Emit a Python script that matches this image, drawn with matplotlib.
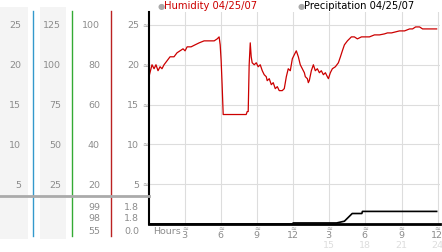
import numpy as np
import matplotlib.pyplot as plt
import matplotlib.transforms as mtransforms

# humidity (%) over the day
hum_hours = [0, 0.08, 0.25, 0.42, 0.58, 0.75, 0.92, 1.08, 1.25, 1.5, 1.75, 2.08, 2.33,
             2.58, 2.83, 3.0, 3.17, 3.5, 3.83, 4.17, 4.58, 5.0, 5.42, 5.67, 5.83, 5.92,
             6.0, 6.08, 6.17, 6.67, 7.5, 8.08, 8.17, 8.25, 8.33, 8.42, 8.5, 8.58, 8.75,
             8.92, 9.08, 9.25, 9.42, 9.58, 9.75, 9.83, 10.0, 10.17, 10.33, 10.5, 10.67,
             10.83, 11.08, 11.25, 11.42, 11.58, 11.75, 11.92, 12.08, 12.25, 12.42, 12.58,
             12.75, 12.92, 13.0, 13.17, 13.25, 13.33, 13.5, 13.67, 13.83, 14.0, 14.17,
             14.33, 14.5, 14.67, 14.83, 14.92, 15.08, 15.25, 15.5, 15.75, 15.92, 16.08,
             16.25, 16.5, 16.83, 17.08, 17.33, 17.67, 18.0, 18.33, 18.75, 19.17, 19.58,
             19.83, 20.17, 20.5, 20.83, 21.25, 21.67, 21.92, 22.17, 22.5, 22.75, 23.33, 23.92]
humidity = [74, 76, 80, 78, 80, 77, 79, 78, 80, 82, 84, 84, 86,
            87, 88, 87, 89, 89, 90, 91, 92, 92, 92, 93, 94, 90,
            82, 70, 55, 55, 55, 55, 56.5, 56.5, 80, 91, 84, 81, 80,
            81, 79, 80, 77, 75, 74, 72, 73, 70, 71, 68, 69,
            67, 67, 68, 74, 78, 77, 83, 85, 87, 84, 80,
            78, 76, 74, 73, 71, 72, 77, 80, 77, 78, 76,
            77, 75, 76, 74, 73, 76, 78, 79, 81, 84, 87,
            90, 92, 94, 94, 93, 94, 94, 94, 95, 95, 95.5,
            96, 96, 96.5, 97, 97, 98, 98, 99, 99, 98, 98, 98]

# precipitation (cumulative)
precip_hours = [0, 11.9, 12.0, 15.6, 16.25, 16.9, 17.7, 17.75, 23.92]
precip = [0, 0, 0.15, 0.15, 0.4, 1.5, 1.5, 1.8, 1.8]

# left scale columns
col1 = ['25', '20', '15', '10', '5']
col2 = ['125', '100', '75', '50', '25']
col3 = ['100', '80', '60', '40', '20']
col4 = ['25', '20', '15', '10', '5']
grid_levels = [100, 80, 60, 40, 20]
hum_stats = ['99', '98', '55']
precip_stats = ['1.8', '1.8', '0.0']

tick_hours = [3, 6, 9, 12, 15, 18, 21, 24]
tick_top = ['3', '6', '9', '12', '3', '6', '9', '12']
tick_bottom = ['', '', '', '', '15', '18', '21', '24']

W, H = 442, 253
fig = plt.figure(figsize=(W / 100, H / 100), dpi=100)
plt.rcParams['font.family'] = 'DejaVu Sans'


def box(x0, y0, x1, y1):
    # pixel box (top-left origin) -> figure fraction rect
    return [x0 / W, 1 - y1 / H, (x1 - x0) / W, (y1 - y0) / H]


# background strips for the left columns
for x0, x1 in [(0, 28), (40, 66)]:
    bg = fig.add_axes(box(x0, 8, x1, 240))
    bg.set_axis_off()
    bg.add_patch(plt.Rectangle((0, 0), 1, 1, color='#f4f4f4', transform=bg.transAxes))

ax = fig.add_axes(box(149, 13, 440, 225))
ax.set_xlim(0, 24.2)
ax.set_ylim(0, 106.5)
for s in ['top', 'right']:
    ax.spines[s].set_visible(False)
ax.spines['left'].set_linewidth(1.5)
ax.spines['bottom'].set_linewidth(2)
ax.set_xticks(tick_hours)
ax.set_yticks(grid_levels)
ax.tick_params(length=0, labelbottom=False, labelleft=False)
ax.grid(True, color='#dddddd', linewidth=0.8)
ax.set_axisbelow(True)
ax.patch.set_alpha(0)

ax.plot(hum_hours, humidity, color='#cc0000', linewidth=0.9)

ax2 = ax.twinx()
ax2.set_ylim(0, 30.3)
ax2.set_axis_off()
ax2.plot(precip_hours, precip, color='black', linewidth=1.2)

# left scale labels, placed on the humidity scale
ymix = mtransforms.blended_transform_factory(fig.dpi_scale_trans, ax.transData)
grey = '#8c8c8c'
fs = 6.8
for i, lvl in enumerate(grid_levels):
    for xp, lab in [(21, col1[i]), (61, col2[i]), (100, col3[i]), (139, col4[i])]:
        ax.text(xp / 100, lvl, lab, transform=ymix, ha='right', va='center',
                fontsize=fs, color=grey)
    ax.text(145.5 / 100, lvl, '≈', transform=ymix, ha='center', va='center',
            fontsize=5, color='#999999')

# vertical coloured separators and grey divider
for xp, c in [(33, '#3399cc'), (72, '#33aa33'), (111, '#bb2222')]:
    fig.add_artist(plt.Line2D([xp / W, xp / W], [1 - 12 / H, 1 - 237 / H],
                              color=c, linewidth=1))
fig.add_artist(plt.Line2D([0, 149 / W], [1 - 197 / H, 1 - 197 / H],
                          color='#aaaaaa', linewidth=2))

for j, ypx in enumerate([207, 219, 232]):
    fig.text(100 / W, 1 - ypx / H, hum_stats[j], ha='right', va='center',
             fontsize=fs, color=grey)
    fig.text(139 / W, 1 - ypx / H, precip_stats[j], ha='right', va='center',
             fontsize=fs, color=grey)

# x tick labels
xmix = mtransforms.blended_transform_factory(ax.transData, fig.transFigure)
for h, t1, t2 in zip(tick_hours, tick_top, tick_bottom):
    ax.text(h, 1 - 229 / H, '≈', transform=xmix, ha='center', va='center',
            fontsize=5, color='#999999')
    ax.text(h - 0.05, 1 - 236 / H, t1, transform=xmix, ha='center', va='center',
            fontsize=fs, color=grey)
    if t2:
        ax.text(h - 0.05, 1 - 246 / H, t2, transform=xmix, ha='center', va='center',
                fontsize=fs, color='#dddddd')
fig.text(153 / W, 1 - 232 / H, 'Hours', ha='left', va='center', fontsize=fs, color=grey)

# legend
fig.text(158 / W, 1 - 6 / H, '●', ha='left', va='center', fontsize=6, color='#aaaaaa')
fig.text(164 / W, 1 - 6 / H, 'Humidity 04/25/07', ha='left', va='center',
         fontsize=7.2, color='#cc0000')
fig.text(298 / W, 1 - 6 / H, '●', ha='left', va='center', fontsize=6, color='#aaaaaa')
fig.text(304 / W, 1 - 6 / H, 'Precipitation 04/25/07', ha='left', va='center',
         fontsize=7.2, color='black')

fig.savefig('out.png', dpi=100)
